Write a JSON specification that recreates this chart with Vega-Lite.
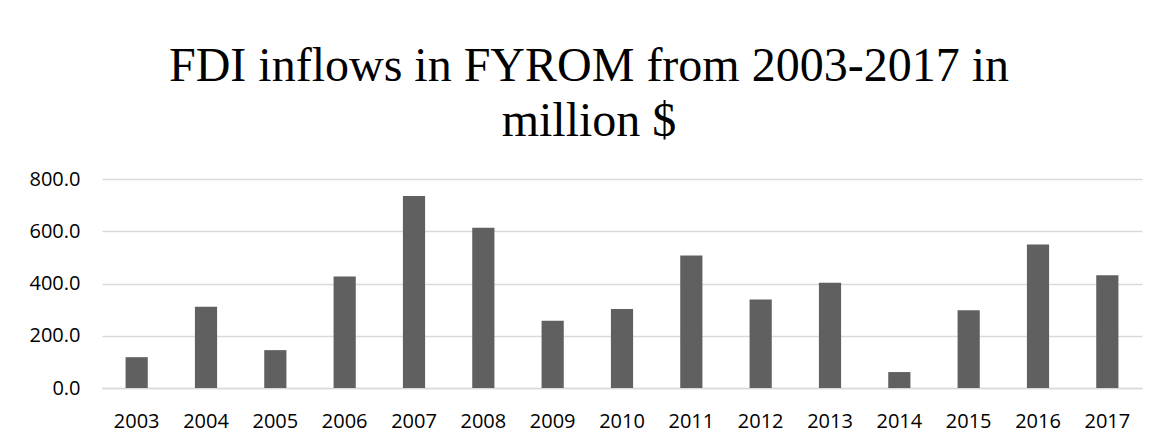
{
  "$schema": "https://vega.github.io/schema/vega-lite/v6.json",
  "autosize": "none",
  "width": 1040,
  "height": 209,
  "padding": {"left": 102, "top": 179, "right": 18, "bottom": 56},
  "background": "white",
  "title": {
    "text": ["FDI inflows in FYROM from 2003-2017 in", "million $"],
    "font": "Liberation Serif",
    "fontSize": 48,
    "fontWeight": "normal",
    "color": "#000000",
    "lineHeight": 55,
    "anchor": "middle",
    "dx": -33,
    "offset": 23
  },
  "data": {
    "values": [
      {"year": "2003", "fdi": 118},
      {"year": "2004", "fdi": 311},
      {"year": "2005", "fdi": 145},
      {"year": "2006", "fdi": 427},
      {"year": "2007", "fdi": 735},
      {"year": "2008", "fdi": 613},
      {"year": "2009", "fdi": 257},
      {"year": "2010", "fdi": 302},
      {"year": "2011", "fdi": 507},
      {"year": "2012", "fdi": 339},
      {"year": "2013", "fdi": 403},
      {"year": "2014", "fdi": 61},
      {"year": "2015", "fdi": 298},
      {"year": "2016", "fdi": 549},
      {"year": "2017", "fdi": 432}
    ]
  },
  "mark": {"type": "bar", "color": "#606060"},
  "encoding": {
    "x": {
      "field": "year",
      "type": "nominal",
      "sort": null,
      "scale": {"paddingInner": 0.68, "paddingOuter": 0.34},
      "axis": {
        "title": null,
        "labelAngle": 0,
        "labelFont": "Open Sans",
        "labelFontSize": 20,
        "labelColor": "#000000",
        "labelPadding": 23,
        "ticks": false,
        "domain": true,
        "domainColor": "#d9d9d9",
        "domainWidth": 1.5
      }
    },
    "y": {
      "field": "fdi",
      "type": "quantitative",
      "scale": {"domain": [0, 800]},
      "axis": {
        "title": null,
        "values": [0, 200, 400, 600, 800],
        "format": ".1f",
        "labelFont": "Open Sans",
        "labelFontSize": 20,
        "labelColor": "#000000",
        "labelPadding": 22,
        "ticks": false,
        "domain": false,
        "grid": true,
        "gridColor": "#d9d9d9",
        "gridWidth": 1.5
      }
    }
  },
  "config": {"view": {"stroke": null}}
}
